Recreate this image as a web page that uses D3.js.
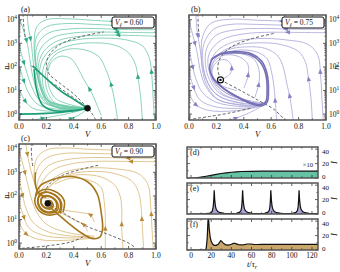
<!DOCTYPE html>
<html><head><meta charset="utf-8">
<script src="https://cdn.jsdelivr.net/npm/d3@7"></script>
<style>
body{margin:0;background:#fff;}
text{font-family:"Liberation Serif","DejaVu Serif",serif;fill:#111;}
</style></head><body>
<svg id="c" width="340" height="272"></svg>
<script>
// ---------------- DATA ----------------
// phase-plane streamlines: [V, log10 n]
const aLines = [
 [[1.0,3.88],[0.8,3.9],[0.55,3.97],[0.35,4.04],[0.2,4.0],[0.13,3.7],[0.11,3.0],[0.12,2.2],[0.15,1.3],[0.2,0.55],[0.3,0.25],[0.5,0.25]],
 [[1.0,3.72],[0.8,3.74],[0.55,3.8],[0.35,3.84],[0.2,3.7],[0.13,3.3],[0.115,2.6],[0.13,1.7],[0.18,0.8],[0.27,0.3],[0.5,0.25]],
 [[1.0,3.58],[0.8,3.58],[0.6,3.62],[0.4,3.62],[0.22,3.45],[0.14,3.0],[0.12,2.3],[0.14,1.5],[0.19,0.7],[0.3,0.28],[0.5,0.25]],
 [[1.0,3.45],[0.8,3.46],[0.6,3.48],[0.4,3.44],[0.25,3.25],[0.16,2.8],[0.13,2.1],[0.15,1.3],[0.21,0.6],[0.5,0.25]],
 [[1.0,3.3],[0.85,3.33],[0.65,3.35],[0.45,3.3],[0.28,3.1],[0.18,2.65],[0.14,2.0],[0.16,1.2],[0.22,0.55],[0.5,0.25]],
 [[0.99,-0.25],[0.98,0.6],[0.97,1.6],[0.95,2.4],[0.9,2.9],[0.78,3.15],[0.6,3.22],[0.42,3.15],[0.27,2.9],[0.18,2.4],[0.15,1.8],[0.17,1.1],[0.23,0.5],[0.5,0.25]],
 [[0.9,-0.25],[0.89,0.6],[0.87,1.5],[0.85,2.1],[0.8,2.6],[0.7,2.92],[0.55,3.02],[0.38,2.92],[0.25,2.6],[0.18,2.0],[0.18,1.1],[0.25,0.45],[0.5,0.25]],
 [[0.72,-0.25],[0.7,0.5],[0.67,1.3],[0.63,1.95],[0.58,2.45],[0.48,2.72],[0.36,2.75],[0.26,2.5],[0.2,1.9],[0.2,1.1],[0.27,0.45],[0.5,0.25]],
 [[0.6,-0.05],[0.53,0.9],[0.47,1.5],[0.43,1.95],[0.38,2.35],[0.3,2.45],[0.23,2.15],[0.21,1.4],[0.27,0.65],[0.5,0.25]],
 [[0.0,4.1],[0.03,3.6],[0.06,3.0],[0.08,2.3],[0.1,1.6],[0.14,0.9],[0.22,0.4],[0.5,0.25]],
 [[0.0,3.0],[0.02,2.5],[0.05,1.9],[0.09,1.2],[0.15,0.6],[0.3,0.25],[0.5,0.25]],
 [[0.0,2.1],[0.03,1.5],[0.07,0.9],[0.14,0.4],[0.3,0.2],[0.5,0.25]],
 [[0.0,1.1],[0.04,0.6],[0.1,0.25],[0.25,0.12],[0.5,0.25]],
 [[0.1,-0.25],[0.25,-0.1],[0.4,0.08],[0.5,0.25]],
 [[0.35,-0.25],[0.45,0.0],[0.5,0.25]],
 [[0.06,4.2],[0.07,3.6],[0.09,3.0],[0.1,2.4],[0.12,1.6],[0.16,0.8],[0.25,0.35],[0.5,0.25]]
];
const aThick = [
 [[0.1,2.05],[0.2,1.5],[0.3,1.0],[0.42,0.55],[0.5,0.25]],
 [[0.11,1.9],[0.13,1.0],[0.17,0.4],[0.25,0.15],[0.4,0.15],[0.5,0.25]],
 [[0.0,0.0],[0.2,0.03],[0.38,0.12],[0.5,0.25]]
];
const aDashed = [
 [[0.03,4.25],[0.035,3.7],[0.045,3.25]],
 [[0.56,-0.25],[0.53,0.05],[0.5,0.25],[0.41,0.8],[0.3,1.3],[0.22,1.7],[0.2,2.1],[0.22,2.5],[0.3,2.95],[0.45,3.28],[0.62,3.48]],
 [[0.09,2.05],[0.2,1.5],[0.35,0.9],[0.5,0.25]]
];
const aFixed = [0.5, 0.25];

const bLines = [
 [[1.0,3.9],[0.75,3.93],[0.5,3.98],[0.3,4.02],[0.16,3.85],[0.1,3.3],[0.09,2.6],[0.1,1.8],[0.14,1.1],[0.22,0.6],[0.38,0.4],[0.55,0.38]],
 [[1.0,3.75],[0.75,3.76],[0.5,3.8],[0.3,3.8],[0.18,3.6],[0.11,3.0],[0.1,2.3],[0.12,1.6],[0.17,1.0],[0.28,0.6],[0.45,0.42],[0.55,0.4]],
 [[1.0,3.6],[0.75,3.6],[0.55,3.63],[0.35,3.58],[0.2,3.35],[0.13,2.8],[0.12,2.1],[0.15,1.45],[0.22,0.9],[0.35,0.6],[0.55,0.42]],
 [[1.0,3.45],[0.8,3.46],[0.6,3.47],[0.4,3.4],[0.24,3.15],[0.15,2.6],[0.14,2.0],[0.18,1.4],[0.27,0.9],[0.42,0.6],[0.56,0.45]],
 [[0.98,-0.25],[0.97,0.7],[0.96,1.7],[0.94,2.5],[0.87,2.95],[0.7,3.15],[0.5,3.2],[0.32,3.05],[0.2,2.65],[0.15,2.0],[0.17,1.4],[0.25,0.85],[0.4,0.55],[0.56,0.45]],
 [[0.9,-0.25],[0.89,0.7],[0.87,1.6],[0.85,2.2],[0.8,2.65],[0.67,2.95],[0.5,3.02],[0.35,2.92],[0.22,2.55],[0.16,1.95],[0.19,1.3],[0.3,0.8],[0.45,0.55]],
 [[0.76,-0.25],[0.74,0.6],[0.71,1.4],[0.69,1.95],[0.65,2.45],[0.56,2.78],[0.42,2.85],[0.28,2.72],[0.19,2.35]],
 [[0.64,-0.25],[0.63,0.5],[0.62,1.2],[0.6,1.85],[0.57,2.35],[0.5,2.62],[0.38,2.72],[0.26,2.6]],
 [[0.0,3.95],[0.03,3.3],[0.06,2.6],[0.08,1.9],[0.12,1.2],[0.2,0.65],[0.35,0.4],[0.52,0.35]],
 [[0.0,2.8],[0.02,2.2],[0.05,1.5],[0.1,0.9],[0.2,0.5],[0.38,0.32],[0.52,0.34]],
 [[0.0,1.8],[0.03,1.2],[0.08,0.6],[0.2,0.3],[0.4,0.25],[0.52,0.33]],
 [[0.0,0.9],[0.05,0.4],[0.15,0.15],[0.35,0.15],[0.5,0.3]],
 [[0.05,4.2],[0.06,3.5],[0.08,2.8],[0.1,2.0],[0.14,1.3],[0.22,0.75],[0.4,0.45]],
 [[0.25,1.5],[0.3,1.7],[0.31,2.05],[0.27,2.3],[0.21,2.25],[0.17,1.9],[0.18,1.5],[0.24,1.2],[0.35,1.0]],
 [[0.4,1.1],[0.43,1.6],[0.43,2.1],[0.37,2.42],[0.26,2.5],[0.18,2.2],[0.16,1.7]],
 [[0.48,0.7],[0.51,1.3],[0.51,1.9],[0.47,2.35],[0.36,2.58],[0.24,2.5]],
 [[0.3,-0.25],[0.42,0.0],[0.52,0.3]]
];
const bThick = [
 [[0.17,2.35],[0.24,2.58],[0.35,2.65],[0.46,2.55],[0.53,2.25],[0.57,1.7],[0.58,1.0],[0.57,0.5],[0.53,0.35],[0.45,0.45],[0.36,0.7],[0.26,1.05],[0.18,1.5],[0.15,1.95],[0.17,2.35]],
 [[0.16,2.3],[0.22,2.52],[0.34,2.6],[0.45,2.5],[0.52,2.2],[0.56,1.7],[0.57,1.0],[0.56,0.52],[0.52,0.4],[0.44,0.5],[0.35,0.75],[0.25,1.1],[0.17,1.55]]
];
const bDashed = [
 [[0.065,4.25],[0.068,3.7],[0.075,3.25]],
 [[0.23,1.45],[0.21,1.95],[0.23,2.4],[0.31,2.85],[0.45,3.18],[0.62,3.42]],
 [[0.23,1.45],[0.36,1.05],[0.5,0.6],[0.62,0.2],[0.7,-0.25]],
 [[0.03,-0.2],[0.15,-0.1],[0.3,0.05],[0.45,0.25]]
];
const bFixed = [0.23, 1.45];

const cLines = [
 [[1.0,3.9],[0.75,3.93],[0.5,3.98],[0.32,4.03],[0.2,3.95],[0.13,3.6],[0.11,3.0],[0.12,2.4],[0.15,2.05],[0.2,1.95]],
 [[1.0,3.75],[0.75,3.77],[0.52,3.8],[0.33,3.8],[0.2,3.6],[0.13,3.1],[0.12,2.5],[0.14,2.1],[0.19,1.95]],
 [[1.0,3.6],[0.78,3.6],[0.56,3.63],[0.36,3.55],[0.22,3.3],[0.15,2.8],[0.13,2.3],[0.16,1.95],[0.22,1.9]],
 [[1.0,3.45],[0.8,3.46],[0.6,3.47],[0.4,3.38],[0.25,3.1],[0.17,2.6],[0.15,2.2],[0.19,1.95]],
 [[0.98,-0.25],[0.97,0.7],[0.96,1.7],[0.94,2.5],[0.87,2.95],[0.7,3.15],[0.5,3.18],[0.33,3.0],[0.21,2.55],[0.16,2.15],[0.2,1.95]],
 [[0.91,-0.25],[0.9,0.7],[0.89,1.6],[0.87,2.2],[0.82,2.65],[0.68,2.97],[0.5,3.03],[0.35,2.88],[0.23,2.45],[0.19,2.1]],
 [[0.76,-0.25],[0.75,0.6],[0.75,1.4],[0.74,1.95],[0.7,2.45],[0.6,2.8],[0.45,2.9],[0.3,2.75],[0.22,2.35]],
 [[0.63,-0.25],[0.63,0.5],[0.63,1.2],[0.62,1.85],[0.6,2.35],[0.52,2.65],[0.38,2.75],[0.26,2.5]],
 [[0.0,3.95],[0.03,3.3],[0.06,2.6],[0.09,1.9],[0.13,1.3],[0.2,0.8],[0.32,0.5],[0.45,0.35],[0.55,0.3]],
 [[0.0,2.85],[0.02,2.2],[0.05,1.5],[0.1,0.9],[0.2,0.5],[0.38,0.3],[0.52,0.28]],
 [[0.0,1.8],[0.03,1.2],[0.08,0.6],[0.2,0.3],[0.4,0.22],[0.55,0.25]],
 [[0.0,0.9],[0.05,0.4],[0.15,0.15],[0.35,0.12],[0.52,0.2]],
 [[0.55,0.9],[0.52,1.2],[0.44,1.3],[0.33,1.4],[0.26,1.55]],
 [[0.5,0.5],[0.47,0.8],[0.4,1.0],[0.3,1.3],[0.25,1.5]],
 [[0.05,4.2],[0.07,3.5],[0.1,2.8],[0.13,2.3],[0.18,2.0]]
];
const cThick = [
 [[0.12,2.0],[0.15,2.4],[0.24,2.68],[0.38,2.82],[0.5,2.6],[0.57,2.1],[0.6,1.3],[0.61,0.6],[0.59,0.25],[0.53,0.2],[0.45,0.45],[0.36,0.85],[0.29,1.2],[0.24,1.45]],
 [[0.32,1.3],[0.33,1.8],[0.26,2.2],[0.17,2.25],[0.12,1.95],[0.13,1.5],[0.2,1.2],[0.29,1.3],[0.3,1.75],[0.24,2.1],[0.17,2.12],[0.14,1.9],[0.15,1.55],[0.21,1.32],[0.27,1.42],[0.27,1.75],[0.22,1.98],[0.17,1.95],[0.16,1.75],[0.18,1.55],[0.22,1.5],[0.24,1.62],[0.22,1.75],[0.2,1.7]],
 [[0.3,1.25],[0.31,1.7],[0.26,2.05],[0.18,2.15],[0.14,1.9],[0.15,1.5],[0.21,1.28],[0.28,1.38],[0.28,1.72],[0.23,1.98],[0.18,1.98],[0.16,1.78],[0.18,1.52],[0.23,1.45],[0.25,1.6],[0.23,1.8],[0.2,1.75]],
 [[0.12,3.0],[0.12,2.5],[0.14,2.15],[0.19,1.95]]
];
const cDashed = [
 [[0.09,4.25],[0.092,3.7],[0.1,3.25]],
 [[0.2,1.7],[0.19,2.15],[0.23,2.55],[0.32,2.88],[0.45,3.12],[0.58,3.3]],
 [[0.2,1.7],[0.33,1.25],[0.5,0.7],[0.66,0.35],[0.8,0.0],[0.85,-0.2]],
 [[0.02,-0.22],[0.2,-0.12],[0.38,0.05],[0.48,0.3]]
];
const cFixed = [0.21, 1.68];

const vTicks = [0.0, 0.2, 0.4, 0.6, 0.8, 1.0];
const nDecades = [0, 1, 2, 3, 4];
const vlLabels = ["0.60", "0.75", "0.90"];
const panelLabels = ["(a)", "(b)", "(c)", "(d)", "(e)", "(f)"];

// time series: [t/tau_r, I]
const dSeries = [[0,0],[5,0.3],[10,1.2],[15,2.4],[20,3.7],[25,5],[30,6.2],[35,7.2],[40,8],[45,8.6],[50,9],[60,9.3],[70,9.4],[126,9.4]];
const eSeries = [[0,0],[10,0.2],[15,0.5],[19,1.2],[21,3.5],[22,10],[22.6,20],[23,33],[23.5,20],[24.2,11],[25,6.5],[26.5,3.5],[29,1.8],[33,1],[40,0.7],[45,0.9],[48,2.2],[49.5,4.5],[50.3,10],[50.8,20],[51.2,33],[51.7,20],[52.4,11],[53.2,6.5],[54.7,3.5],[57,1.8],[61,1],[68,0.7],[73,0.9],[76,2.2],[77.5,4.5],[78.3,10],[78.8,20],[79.2,33],[79.7,20],[80.4,11],[81.2,6.5],[82.7,3.5],[85,1.8],[89,1],[96,0.7],[101,0.9],[104,2.2],[105.5,4.5],[106.3,10],[106.8,20],[107.2,33],[107.7,20],[108.4,11],[109.2,6.5],[110.7,3.5],[113,1.8],[117,1],[126,0.7]];
const fSeries = [[0,0],[14,0],[15,2],[16,15],[16.8,40],[17.3,45],[18,30],[19,18],[20,12],[21.5,8],[23,6.5],[25,6.5],[27,8],[28.5,11],[29.5,13],[30.5,12],[32,9.5],[34,7.5],[36,6.8],[38,7],[40,8],[42,9.2],[43.5,9.3],[45,8.5],[47,7.5],[50,7],[53,7.5],[56,8.3],[59,8.3],[62,7.8],[66,7.6],[70,7.8],[75,8],[80,7.8],[90,7.8],[100,7.8],[126,7.8]];
const tTicks = [0, 20, 40, 60, 80, 100, 120];
const iTicks = [0, 20, 40];

// ---------------- DRAWING ----------------
const svg = d3.select("#c");
const FRAME = "#555";

function phase(box, cfg) {
  const g = svg.append("g");
  const x = d3.scaleLinear().domain([0, 1]).range([box.l, box.r]);
  const y = d3.scaleLog().domain([Math.pow(10, -0.25), Math.pow(10, 4.2)]).range([box.b, box.t]);
  const id = "clip" + cfg.key;
  svg.append("clipPath").attr("id", id).append("rect")
    .attr("x", box.l).attr("y", box.t).attr("width", box.r - box.l).attr("height", box.b - box.t);
  const pg = g.append("g").attr("clip-path", `url(#${id})`);
  const line = d3.line().x(d => x(d[0])).y(d => y(Math.pow(10, d[1]))).curve(d3.curveCatmullRom.alpha(0.5));

  const thin = pg.selectAll("path.thin").data(cfg.lines).join("path")
    .attr("d", line).attr("fill", "none").attr("stroke", cfg.thin).attr("stroke-width", 0.9).attr("opacity", 0.9);
  pg.selectAll("path.dash").data(cfg.dashed).join("path").attr("class","dash")
    .attr("d", line).attr("fill", "none").attr("stroke", "#666").attr("stroke-width", 1).attr("stroke-dasharray", "3,2");
  pg.selectAll("path.thick").data(cfg.thick).join("path").attr("class","thick")
    .attr("d", line).attr("fill", "none").attr("stroke", cfg.thickC).attr("stroke-width", 1.6);
  thin.each(function () {
    const L = this.getTotalLength();
    [0.18].forEach(f => {
      const p = this.getPointAtLength(f * L), q = this.getPointAtLength(Math.min(L, f * L + 1));
      const a = Math.atan2(q.y - p.y, q.x - p.x) * 180 / Math.PI;
      pg.append("path").attr("d", "M3,0L-2,2.2L-2,-2.2Z").attr("fill", cfg.arrow)
        .attr("transform", `translate(${p.x},${p.y}) rotate(${a})`);
    });
  });
  pg.append("circle").attr("cx", x(cfg.fixed[0])).attr("cy", y(Math.pow(10, cfg.fixed[1]))).attr("r", 3)
    .attr("fill", cfg.open ? "#fff" : "#111").attr("stroke", "#111").attr("stroke-width", cfg.open ? 1.2 : 0.6);
  if (cfg.open) pg.append("circle").attr("cx", x(cfg.fixed[0])).attr("cy", y(Math.pow(10, cfg.fixed[1]))).attr("r", 1.2).attr("fill","#111");

  const tk = g.append("g").attr("stroke", "#222").attr("stroke-width", 0.7);
  d3.range(0, 1.0001, 0.1).forEach((v, i) => {
    const len = i % 2 === 0 ? 3 : 1.6;
    tk.append("line").attr("x1", x(v)).attr("x2", x(v)).attr("y1", box.b).attr("y2", box.b - len);
    tk.append("line").attr("x1", x(v)).attr("x2", x(v)).attr("y1", box.t).attr("y2", box.t + len);
  });
  for (let d = -1; d <= 4; d++) {
    for (let k = 1; k <= 9; k++) {
      const n = k * Math.pow(10, d);
      if (n < Math.pow(10, -0.25) || n > Math.pow(10, 4.2)) continue;
      const len = k === 1 ? 3 : 1.6;
      tk.append("line").attr("x1", box.l).attr("x2", box.l + len).attr("y1", y(n)).attr("y2", y(n));
      tk.append("line").attr("x1", box.r).attr("x2", box.r - len).attr("y1", y(n)).attr("y2", y(n));
    }
  }
  g.append("rect").attr("x", box.l).attr("y", box.t).attr("width", box.r - box.l).attr("height", box.b - box.t)
    .attr("fill", "none").attr("stroke", FRAME).attr("stroke-width", 1.5);

  vTicks.forEach(v => g.append("text").attr("x", x(v)).attr("y", box.b + 9).attr("text-anchor", "middle")
    .attr("font-size", 7.5).text(v.toFixed(1)));
  g.append("text").attr("x", (box.l + box.r) / 2).attr("y", box.b + 17).attr("text-anchor", "middle")
    .attr("font-size", 8.5).attr("font-style", "italic").text("V");
  nDecades.forEach(k => {
    const t = g.append("text").attr("y", y(Math.pow(10, k)) + 2.5).attr("font-size", 7.5);
    if (cfg.right) t.attr("x", box.r + 3).attr("text-anchor", "start");
    else t.attr("x", box.l - 2).attr("text-anchor", "end");
    t.text("10").append("tspan").attr("dy", -3).attr("font-size", 5.5).text(k);
  });
  const nx = cfg.right ? box.r + 12.5 : box.l - 10.5;
  g.append("text").attr("transform", `translate(${nx},${(box.t + box.b) / 2}) rotate(-90)`)
    .attr("text-anchor", "middle").attr("font-size", 8.5).attr("font-style", "italic").text("n");
  g.append("text").attr("x", box.l + 2).attr("y", box.t - 3).attr("font-size", 8).text(cfg.label);
  const bx = box.r - 44, by = box.t + 2;
  g.append("rect").attr("x", bx).attr("y", by).attr("width", 42).attr("height", 11).attr("rx", 2)
    .attr("fill", "#fff").attr("stroke", "#111").attr("stroke-width", 1);
  const tt = g.append("text").attr("x", bx + 3).attr("y", by + 8.3).attr("font-size", 7.5);
  tt.append("tspan").attr("font-style", "italic").text("V");
  tt.append("tspan").attr("font-size", 5.5).attr("dy", 1.5).attr("font-style", "italic").text("ℓ");
  tt.append("tspan").attr("dy", -1.5).text(" = " + cfg.vl);
}

phase({l:19, r:156, t:15, b:120}, {key:"a", lines:aLines, thick:aThick, dashed:aDashed, fixed:aFixed, open:false,
  thin:"#6fcaa9", thickC:"#1b9e77", arrow:"#2aa882", label:panelLabels[0], vl:vlLabels[0], right:false});
phase({l:189, r:326, t:15, b:120}, {key:"b", lines:bLines, thick:bThick, dashed:bDashed, fixed:bFixed, open:true,
  thin:"#aaa6d9", thickC:"#7570b3", arrow:"#8581c2", label:panelLabels[1], vl:vlLabels[1], right:true});
phase({l:19, r:156, t:144, b:249}, {key:"c", lines:cLines, thick:cThick, dashed:cDashed, fixed:cFixed, open:false,
  thin:"#d9b877", thickC:"#a6761d", arrow:"#b88a35", label:panelLabels[2], vl:vlLabels[2], right:false});

const tx = d3.scaleLinear().domain([-4, 126]).range([187, 318]);
function series(box, data, fill, label, last, note) {
  const g = svg.append("g");
  const y = d3.scaleLinear().domain([0, 43]).range([box.b, box.t]);
  const id = "clip" + label.replace(/\W/g, "");
  svg.append("clipPath").attr("id", id).append("rect").attr("x", 187).attr("y", box.t).attr("width", 131).attr("height", box.b - box.t);
  const pg = g.append("g").attr("clip-path", `url(#${id})`);
  pg.append("path").datum(data).attr("d", d3.area().x(d => tx(d[0])).y0(y(0)).y1(d => y(d[1])))
    .attr("fill", fill);
  pg.append("path").datum(data).attr("d", d3.line().x(d => tx(d[0])).y(d => y(d[1])))
    .attr("fill", "none").attr("stroke", "#111").attr("stroke-width", 1.2);
  const tk = g.append("g").attr("stroke", "#222").attr("stroke-width", 0.7);
  d3.range(0, 121, 10).forEach((t, i) => {
    const len = i % 2 === 0 ? 3 : 1.6;
    tk.append("line").attr("x1", tx(t)).attr("x2", tx(t)).attr("y1", box.b).attr("y2", box.b - len);
    tk.append("line").attr("x1", tx(t)).attr("x2", tx(t)).attr("y1", box.t).attr("y2", box.t + len);
  });
  [0, 10, 20, 30, 40].forEach((v, i) => {
    const len = i % 2 === 0 ? 3 : 1.6;
    tk.append("line").attr("x1", 187).attr("x2", 187 + len).attr("y1", y(v)).attr("y2", y(v));
    tk.append("line").attr("x1", 318).attr("x2", 318 - len).attr("y1", y(v)).attr("y2", y(v));
  });
  g.append("rect").attr("x", 187).attr("y", box.t).attr("width", 131).attr("height", box.b - box.t)
    .attr("fill", "none").attr("stroke", FRAME).attr("stroke-width", 1.5);
  iTicks.forEach(v => g.append("text").attr("x", 322)
    .attr("y", y(v) + (v === 0 ? 0.5 : v === 40 ? 4.5 : 2.5)).attr("font-size", 7).text(v));
  g.append("text").attr("transform", `translate(337,${(box.t + box.b) / 2}) rotate(-90)`)
    .attr("text-anchor", "middle").attr("font-size", 8.5).attr("font-style", "italic").text("I");
  g.append("text").attr("x", 190).attr("y", box.t + 8).attr("font-size", 8).text(label);
  if (note) g.append("text").attr("x", 313).attr("y", box.b - 11).attr("text-anchor", "end").attr("font-size", 6.5).text(note);
  if (last) {
    tTicks.forEach(t => g.append("text").attr("x", tx(t)).attr("y", box.b + 8).attr("text-anchor", "middle")
      .attr("font-size", 7.5).text(t));
    const lab = g.append("text").attr("x", 252).attr("y", box.b + 17).attr("text-anchor", "middle").attr("font-size", 8.5);
    lab.append("tspan").attr("font-style", "italic").text("t");
    lab.append("tspan").text("/");
    lab.append("tspan").attr("font-style", "italic").text("τ");
    lab.append("tspan").attr("font-size", 6).attr("dy", 1.5).attr("font-style", "italic").text("r");
  }
}
series({t:147, b:178}, dSeries, "#66c2a5", panelLabels[3], false, "×10");
series({t:183, b:214}, eSeries, "#a7a3d6", panelLabels[4], false, null);
series({t:219, b:250}, fSeries, "#caa66a", panelLabels[5], true, null);
</script>
</body></html>
